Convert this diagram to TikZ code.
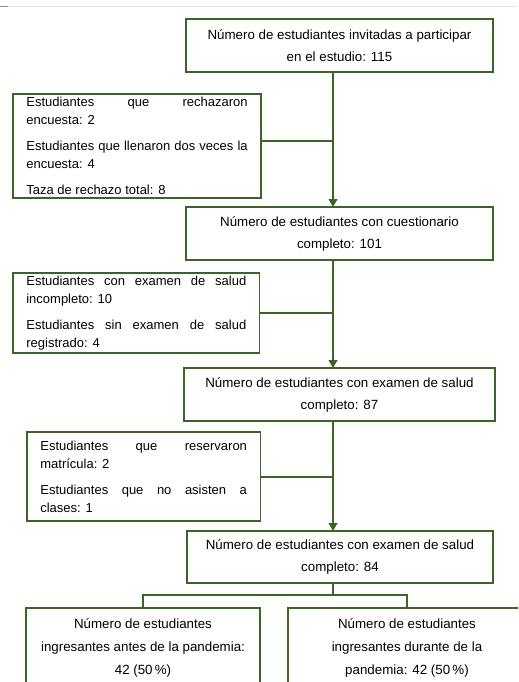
\documentclass[tikz,border=0pt]{standalone}
\usepackage{fontspec}
\setmainfont{Liberation Sans}
\usetikzlibrary{arrows.meta}
\definecolor{gcol}{HTML}{3D6428}
\begin{document}
\begin{tikzpicture}[x=0.75pt,y=-0.75pt,
  box/.style={draw=gcol, line width=1.2pt, inner sep=0pt, outer sep=0pt, anchor=north west, align=center,
    font=\fontsize{10}{16.5}\selectfont},
  sidebox/.style={draw=gcol, line width=1.2pt, inner xsep=10pt, inner ysep=0pt, outer sep=0pt, anchor=north west,
    align=justify, font=\fontsize{9.75}{13.5}\selectfont},
  conn/.style={draw=gcol, line width=1.5pt},
  arr/.style={conn, -{Triangle[length=6pt,width=6.5pt]}}]
\useasboundingbox (0,0) rectangle (518,682);
\clip (0,0) rectangle (518,682);
\fill[white] (0,0) rectangle (518,682);
\draw[black!10, line width=0.75pt] (0,6) -- (518,6);
\draw[black!45, line width=0.75pt] (0,6) -- (8,6);
\coordinate (spine) at (333,0);

\node[box, minimum width=230.25pt, minimum height=39.75pt] (b1) at (186,19)
  {Número de estudiantes invitadas a participar\\ en el estudio: 115};
\node[box, minimum width=230.25pt, minimum height=39.75pt] (b2) at (186,207)
  {Número de estudiantes con cuestionario\\ completo: 101};
\node[box, minimum width=233.25pt, minimum height=39.75pt] (b3) at (184,368)
  {Número de estudiantes con examen de salud\\ completo: 87};
\node[box, minimum width=229.5pt, minimum height=39pt] (b4) at (187,531)
  {Número de estudiantes con examen de salud\\ completo: 84};

\node[sidebox, text width=166pt, minimum height=78pt] (l1) at (13,94)
  {\setlength{\parskip}{6pt}Estudiantes que rechazaron\linebreak encuesta: 2\par
   Estudiantes que llenaron dos veces la\linebreak encuesta: 4\par
   Taza de rechazo total: 8};
\node[sidebox, text width=165pt, minimum height=60pt] (l2) at (13,273)
  {\setlength{\parskip}{6pt}Estudiantes con examen de salud\linebreak incompleto: 10\par
   Estudiantes sin examen de salud\linebreak registrado: 4};
\node[sidebox, text width=155pt, minimum height=66.75pt] (l3) at (27,432)
  {\setlength{\parskip}{6pt}Estudiantes que reservaron\linebreak matrícula: 2\par
   Estudiantes que no asisten a\linebreak clases: 1};

\node[box, minimum width=175.5pt, minimum height=60pt, font=\fontsize{10}{17.25}\selectfont] (bl) at (26,608)
  {Número de estudiantes\\ ingresantes antes de la pandemia:\\ 42 (50\,\%)};
\node[box, minimum width=178.5pt, minimum height=60pt, font=\fontsize{10}{17.25}\selectfont] (br) at (288,608)
  {Número de estudiantes\\ ingresantes durante de la\\ pandemia: 42 (50\,\%)};

\draw[arr] (b1.south -| spine) -- (b2.north -| spine);
\draw[arr] (b2.south -| spine) -- (b3.north -| spine);
\draw[arr] (b3.south -| spine) -- (b4.north -| spine);
\draw[conn] ([yshift=3.75pt]l1.east) -- ([yshift=3.75pt]l1.east -| spine);
\draw[conn] (l2.east) -- (l2.east -| spine);
\draw[conn] (l3.east) -- (l3.east -| spine);
\draw[conn] (b4.south -| spine) -- ++(0,12) coordinate (fork) -| (bl.north);
\draw[conn] (fork) -| (br.north);
\end{tikzpicture}
\end{document}
